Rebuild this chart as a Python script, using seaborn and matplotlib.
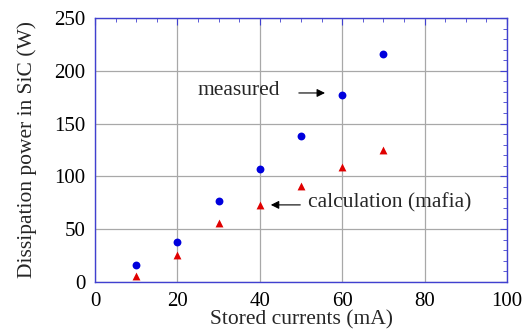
import matplotlib
matplotlib.use("Agg")
import matplotlib.pyplot as plt
import seaborn as sns
import pandas as pd
from matplotlib.ticker import MultipleLocator

currents = [10, 20, 30, 40, 50, 60, 70]
measured = [16, 38, 77, 107, 138, 177, 216]
calculated = [6, 26, 56, 73, 91, 109, 125]

sns.set_style("white")
plt.rcParams['font.family'] = ['Liberation Serif', 'DejaVu Serif']

df_m = pd.DataFrame({"x": currents, "y": measured})
df_c = pd.DataFrame({"x": currents, "y": calculated})

fig = plt.figure(figsize=(5.26, 3.29), dpi=100)
ax = fig.add_axes([0.1806, 0.1429, 0.7833, 0.8024])

sns.scatterplot(data=df_m, x="x", y="y", ax=ax, color="#0000dd", marker="o", s=32, linewidth=0, zorder=3)
sns.scatterplot(data=df_c, x="x", y="y", ax=ax, color="#e00000", marker="^", s=32, linewidth=0, zorder=3)

ax.set_xlim(0, 100)
ax.set_ylim(0, 250)
ax.xaxis.set_major_locator(MultipleLocator(20))
ax.xaxis.set_minor_locator(MultipleLocator(5))
ax.yaxis.set_major_locator(MultipleLocator(50))
ax.yaxis.set_minor_locator(MultipleLocator(10))
ax.grid(True, which="major", color="#a8a8a8", linewidth=0.9)
ax.set_axisbelow(True)
for s in ax.spines.values():
    s.set_color("#4040d0")
    s.set_linewidth(1.0)
ax.tick_params(which="both", direction="in", top=True, right=True, colors="#4040d0",
               labelcolor="black", labelsize=15, pad=7)
ax.tick_params(which="major", length=5)
ax.tick_params(which="minor", length=3)
ax.set_xlabel("Stored currents (mA)", fontsize=15.5, labelpad=0)
ax.set_ylabel("Dissipation power in SiC (W)", fontsize=15.5, labelpad=12)

ax.annotate("", xy=(56.5, 179), xytext=(48.8, 179),
            arrowprops=dict(arrowstyle="-|>", color="black", lw=0.8, mutation_scale=12))
ax.text(25, 181, "measured", fontsize=15.5, va="center", ha="left")
ax.annotate("", xy=(42, 73), xytext=(50.5, 73),
            arrowprops=dict(arrowstyle="-|>", color="black", lw=0.8, mutation_scale=12))
ax.text(51.8, 75, "calculation (mafia)", fontsize=15.5, va="center", ha="left")

fig.savefig("out.png", dpi=100)
